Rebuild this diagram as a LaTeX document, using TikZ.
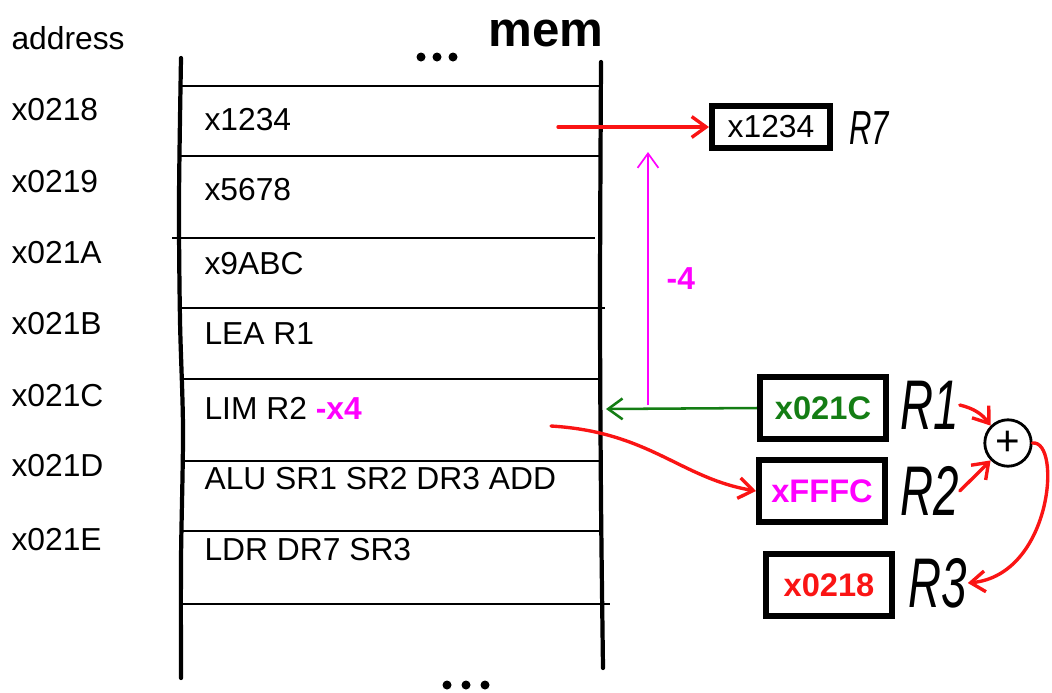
\documentclass[tikz,border=0pt]{standalone}
\usepackage{fontspec}
\setmainfont{Liberation Sans}
\usetikzlibrary{arrows.meta, positioning}
\definecolor{wirered}{RGB}{250,20,20}
\definecolor{wiregreen}{RGB}{20,125,20}
\definecolor{wiremag}{RGB}{255,0,255}
\tikzset{
  addrtext/.style={anchor=west, inner sep=0pt, font=\fontsize{11.3}{13}\selectfont},
  memtext/.style={anchor=west, inner sep=0pt, font=\fontsize{11.3}{13}\selectfont}
}
\tikzset{
  regbox/.style={draw, line width=2pt, minimum width=1.58cm, minimum height=0.78cm,
    inner sep=0pt, font=\fontsize{11.6}{13}\selectfont\bfseries},
  reglabel/.style={inner sep=0pt, font=\fontsize{25}{27}\selectfont\itshape},
  sumcirc/.style={draw, circle, line width=1pt, minimum size=0.58cm, inner sep=0pt,
    font=\fontsize{15}{15}\selectfont}
}
\tikzset{
  wall/.style={line width=1.5pt, line cap=round},
  cellline/.style={line width=0.7pt},
  redwire/.style={wirered, line width=1.2pt, line cap=round},
  greenwire/.style={wiregreen, line width=0.9pt},
  magwire/.style={wiremag, line width=0.6pt}
}
\newcommand{\hand}[1]{\scalebox{0.65}[1]{#1}}

\begin{document}
\begin{tikzpicture}[x=0.0125cm, y=-0.0125cm, >={Straight Barb[length=1.8mm,width=2.6mm]}]
      \useasboundingbox (0,0) rectangle (1052,692);
      % addresses
      \node[addrtext] (addr) at (11,38)  {address};
      \node[addrtext] (a218) at (11,110) {x0218};
      \node[addrtext] (a219) at (11,182) {x0219};
      \node[addrtext] (a21a) at (11,253) {x021A};
      \node[addrtext] (a21b) at (11,324) {x021B};
      \node[addrtext] (a21c) at (11,396) {x021C};
      \node[addrtext] (a21d) at (11,466) {x021D};
      \node[addrtext] (a21e) at (11,540) {x021E};
      % memory
      \draw[wall] plot[smooth] coordinates {(181,58) (179,200) (180,320) (183,430) (181,560) (181,678)};
      \draw[wall] plot[smooth] coordinates {(601,62) (600,300) (601,500) (603,668)};
      \foreach \y/\l/\r in {86/181/600, 156/181/601, 238/172/595, 308/181/605,
                            379/181/601, 461/181/601, 531/181/601, 604/183/610}
        \draw[cellline] (\l,\y) -- (\r,\y);
      \node[memtext] (m218) at (204,120) {x1234};
      \node[memtext] (m219) at (204,190) {x5678};
      \node[memtext] (m21a) at (204,264) {x9ABC};
      \node[memtext] (m21b) at (204,334) {LEA R1};
      \node[memtext] (m21c) at (204,408) {LIM R2 \textcolor{wiremag}{\textbf{-x4}}};
      \node[memtext] (m21d) at (204,479) {ALU SR1 SR2 DR3 ADD};
      \node[memtext] (m21e) at (204,550) {LDR DR7 SR3};
      \node[font=\fontsize{17.5}{19}\selectfont\bfseries] (memname) at (546,33) {mem};
      \foreach \x in {421,437,453} \fill (\x,57) circle (1.6pt);
      \foreach \x in {447,466,485} \fill (\x,685) circle (1.6pt);
      % registers
      \node[regbox, minimum width=1.48cm, minimum height=0.53cm, font=\fontsize{11.3}{13}\selectfont] (r7) at (771,127) {x1234};
      \node[reglabel, font=\fontsize{17}{19}\selectfont\itshape] (r7lbl) at (869,128) {\hand{R7}};
      \node[regbox, text=wiregreen] (r1) at (823,408) {x021C};
      \node[reglabel] (r1lbl) at (930,405) {\hand{R1}};
      \node[regbox, text=wiremag] (r2) at (822,491) {xFFFC};
      \node[reglabel] (r2lbl) at (930,491) {\hand{R2}};
      \node[regbox, text=wirered] (r3) at (829,585) {x0218};
      \node[reglabel] (r3lbl) at (938,583) {\hand{R3}};
      \node[sumcirc] (sum) at (1008,443) {+};
      % wires
      \coordinate (ldsrc) at (558,127);
      \coordinate (offbot) at (648,405);
      \coordinate (offtop) at (648,152);
      \coordinate (memport) at (606,409);
      \coordinate (limsrc) at (551,426);
      \draw[redwire,->] (ldsrc) -- (r7.west);
      \draw[magwire,->] (offbot) -- node[right=3pt, text=wiremag, font=\fontsize{11.3}{13}\selectfont\bfseries] (offlbl) {-4} (offtop);
      \draw[greenwire,->] (r1.west) -- (memport);
      \draw[redwire,->] (limsrc) .. controls (650,432) and (680,478) .. (r2.west);
      \draw[redwire,->] (r1lbl.east) to[bend left=20] (sum.north west);
      \draw[redwire,->] (r2lbl.east) -- (sum.south west);
      \draw[redwire,->] (sum.east) .. controls (1062,440) and (1052,575) .. (r3lbl.east);
    \end{tikzpicture}
\end{document}
